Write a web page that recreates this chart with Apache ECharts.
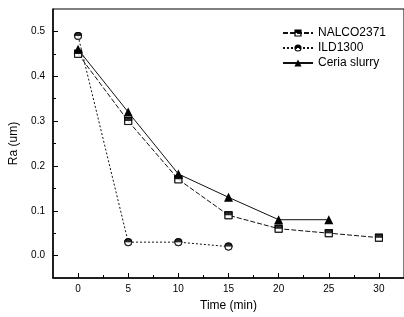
<!DOCTYPE html>
<html style="height: 100%">
<head>
<meta charset="utf-8">
<script src="https://cdn.jsdelivr.net/npm/echarts@6/dist/echarts.min.js"></script>
</head>
<body style="height: 100%; margin: 0; background: #fff">
<div id="container" style="width: 404px; height: 317px;"></div>
<script type="text/javascript">
// data
var time = [0, 5, 10, 15, 20, 25, 30];
var nalco = [0.45, 0.30, 0.17, 0.09, 0.06, 0.05, 0.04];
var ild = [0.49, 0.03, 0.03, 0.02];
var ceria = [0.46, 0.32, 0.182, 0.13, 0.08, 0.08];
var xTicks = [0, 5, 10, 15, 20, 25, 30];
var xMinor = [2.5, 7.5, 12.5, 17.5, 22.5, 27.5];
var yTicks = [0, 0.1, 0.2, 0.3, 0.4, 0.5];
var yMinor = [0.05, 0.15, 0.25, 0.35, 0.45];

function pairs(ys) {
	var out = [];
	for (var i = 0; i < ys.length; i++) out.push([time[i], ys[i]]);
	return out;
}

// legend markers: outer shape with the lower inner part cut out
var sqPath = 'path://M0,0L10,0L10,10L0,10Z M1.7,5L1.7,8.3L8.3,8.3L8.3,5Z';
var cirPath = 'path://M0,5A5,5,0,1,1,10,5A5,5,0,1,1,0,5Z M8.5,5L1.5,5A3.5,3.5,0,0,0,8.5,5Z';
// top halves only; the bare line at y=10 keeps the full box
var sqTop = 'path://M0,0L10,0L10,5L0,5Z M0,10L10,10';
var cirTop = 'path://M0,5A5,5,0,0,1,10,5Z M0,10L10,10';
var font = 'Liberation Sans';

var myChart = echarts.init(document.getElementById('container'));
var option = {
	animation: false,
	backgroundColor: '#fff',
	grid: {
		left: 50, right: -1, top: 9, bottom: 39,
		show: true, borderColor: '#000', borderWidth: 1
	},
	legend: {
		orient: 'vertical',
		left: 277, top: 22,
		itemWidth: 30, itemHeight: 9, itemGap: 3,
		textStyle: { fontFamily: font, fontSize: 12, color: '#000' },
		data: ['NALCO2371', 'ILD1300', 'Ceria slurry']
	},
	xAxis: [{
		type: 'value', min: -2.5, max: 32.5,
		name: 'Time (min)', nameLocation: 'middle', nameGap: 22,
		nameTextStyle: { fontFamily: font, fontSize: 12, color: '#000' },
		axisLine: { onZero: false, lineStyle: { color: '#000', width: 1.5 } },
		axisTick: { inside: true, length: 5, customValues: xTicks, lineStyle: { color: '#000' } },
		axisLabel: {
			customValues: xTicks, margin: 6,
			fontFamily: font, fontSize: 10, color: '#000'
		},
		splitLine: { show: false }
	}, {
		type: 'value', min: -2.5, max: 32.5, position: 'bottom',
		axisLine: { show: false, onZero: false },
		axisTick: { inside: true, length: 3, customValues: xMinor, lineStyle: { color: '#000' } },
		axisLabel: { show: false },
		splitLine: { show: false }
	}],
	yAxis: [{
		type: 'value', min: -0.05, max: 0.55,
		name: 'Ra (um)', nameLocation: 'middle', nameGap: 33,
		nameTextStyle: { fontFamily: font, fontSize: 12, color: '#000' },
		axisLine: { onZero: false, lineStyle: { color: '#000', width: 1.5 } },
		axisTick: { inside: true, length: 5, customValues: yTicks, lineStyle: { color: '#000' } },
		axisLabel: {
			customValues: yTicks, margin: 8,
			fontFamily: font, fontSize: 10, color: '#000',
			formatter: function (v) { return v.toFixed(1); }
		},
		splitLine: { show: false }
	}, {
		type: 'value', min: -0.05, max: 0.55, position: 'left',
		axisLine: { show: false, onZero: false },
		axisTick: { inside: true, length: 3, customValues: yMinor, lineStyle: { color: '#000' } },
		axisLabel: { show: false },
		splitLine: { show: false }
	}],
	series: [
		{
			name: 'NALCO2371', type: 'line', z: 2,
			data: pairs(nalco),
			symbol: sqPath, symbolSize: 8,
			itemStyle: { color: '#000' },
			lineStyle: { color: '#111', width: 1, type: [5, 2] }
		},
		{
			name: 'ILD1300', type: 'line', z: 2,
			data: pairs(ild),
			symbol: cirPath, symbolSize: 8,
			itemStyle: { color: '#000' },
			lineStyle: { color: '#111', width: 1, type: [2, 2] }
		},
		// white bodies with outline, then the black top halves
		{
			type: 'scatter', z: 3, silent: true,
			data: pairs(nalco), symbol: 'rect', symbolSize: 7,
			itemStyle: { color: '#fff', borderColor: '#000', borderWidth: 1 }
		},
		{
			type: 'scatter', z: 3, silent: true,
			data: pairs(ild), symbol: 'circle', symbolSize: 7,
			itemStyle: { color: '#fff', borderColor: '#000', borderWidth: 1 }
		},
		{
			type: 'scatter', z: 4, silent: true,
			data: pairs(nalco), symbol: sqTop, symbolSize: 8,
			itemStyle: { color: '#000' }
		},
		{
			type: 'scatter', z: 4, silent: true,
			data: pairs(ild), symbol: cirTop, symbolSize: 8,
			itemStyle: { color: '#000' }
		},
		{
			name: 'Ceria slurry', type: 'line', z: 5,
			data: pairs(ceria),
			symbol: 'triangle', symbolSize: 9,
			itemStyle: { color: '#000' },
			lineStyle: { color: '#111', width: 1 }
		}
	]
};
myChart.setOption(option);
</script>
</body>
</html>
